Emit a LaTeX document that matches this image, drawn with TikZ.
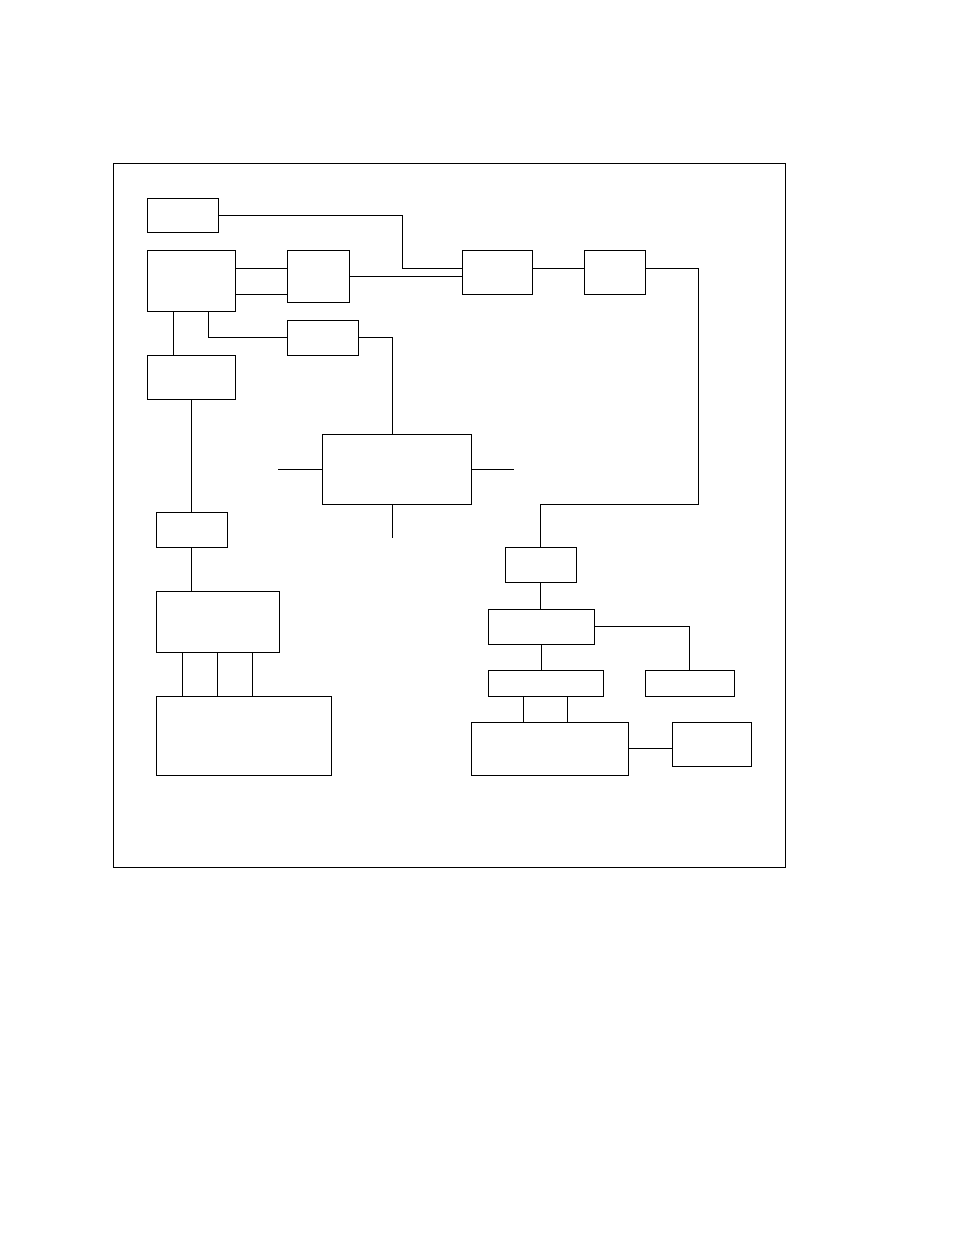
\documentclass[tikz,border=0pt]{standalone}
\usepackage{tikz}
\usetikzlibrary{positioning,calc}

\begin{document}
\begin{tikzpicture}[
    x=1pt, y=-1pt,
    blk/.style={draw, line width=1pt, inner sep=0pt, outer sep=0pt},
    wire/.style={line width=1pt},
]
\useasboundingbox (0,0) rectangle (954,1235);

% ---------- Frame ----------
\draw[wire] (113,163) rectangle (785,867);

% ---------- Top row ----------
\node[blk, minimum width=71,  minimum height=34] (clk)  at (182.5,215) {};
\node[blk, minimum width=88,  minimum height=61] (core) at (191,280.5) {};
\node[blk, minimum width=62,  minimum height=52] (mux)  at (318,276)   {};
\node[blk, minimum width=71,  minimum height=35] (sel)  at (322.5,337.5) {};
\node[blk, minimum width=70,  minimum height=44] (drv)  at (497,272)   {};
\node[blk, minimum width=61,  minimum height=44] (amp)  at (614.5,272) {};

% ---------- Left column ----------
\node[blk, minimum width=88,  minimum height=44] (reg)  at (191,377)   {};
\node[blk, minimum width=71,  minimum height=35] (buf)  at (191.5,529.5) {};
\node[blk, minimum width=123, minimum height=61] (dec)  at (217.5,621.5) {};
\node[blk, minimum width=175, minimum height=79] (mem)  at (243.5,735.5) {};

% ---------- Centre ----------
\node[blk, minimum width=149, minimum height=70] (hub)  at (396.5,469) {};

% ---------- Right column ----------
\node[blk, minimum width=71,  minimum height=35] (rx)   at (540.5,564.5) {};
\node[blk, minimum width=106, minimum height=35] (ctl)  at (541,626.5) {};
\node[blk, minimum width=89,  minimum height=26] (aux)  at (689.5,683) {};
\node[blk, minimum width=115, minimum height=26] (io)   at (545.5,683) {};
\node[blk, minimum width=157, minimum height=53] (out)  at (549.5,748.5) {};
\node[blk, minimum width=79,  minimum height=44] (load) at (711.5,744) {};

\coordinate (bend) at (698,504);

% ---------- Top connectors ----------
\draw[wire] (clk.east) -| ($(drv.west)+(-60,-4)$) -- ([yshift=4pt]drv.west);
\draw[wire] ([yshift=12.5pt]core.east) -- ([yshift=12.5pt]core.east -| mux.west);
\draw[wire] ([yshift=-13.5pt]core.east) -- ([yshift=-13.5pt]core.east -| mux.west);
\draw[wire] (mux.east) -- (mux.east -| drv.west);
\draw[wire] ([yshift=4pt]drv.east) -- ([yshift=4pt]amp.west);
\draw[wire] ([yshift=4pt]amp.east) -| (bend) -| (rx.north);

% ---------- Left connectors ----------
\draw[wire] ([xshift=-18pt]core.south) -- ([xshift=-18pt]core.south |- reg.north);
\draw[wire] ([xshift=17pt]core.south) |- (sel.west);
\draw[wire] (sel.east) -| ([xshift=-4pt]hub.north);
\draw[wire] (reg.south) -- (reg.south |- buf.north);
\draw[wire] (buf.south) -- (buf.south |- dec.north);
\foreach \dx in {-35,0,35}{
  \draw[wire] ([xshift=\dx pt]dec.south) -- ([xshift=\dx pt]dec.south |- mem.north);
}

% ---------- Hub stubs ----------
\draw[wire] (hub.west) -- ++(-44,0);
\draw[wire] (hub.east) -- ++(43,0);
\draw[wire] ([xshift=-4pt]hub.south) -- ++(0,34);

% ---------- Right connectors ----------
\draw[wire] (rx.south) -- (rx.south |- ctl.north);
\draw[wire] (ctl.east) -| (aux.north);
\draw[wire] (ctl.south) -- (ctl.south |- io.north);
\foreach \dx in {-22,22}{
  \draw[wire] ([xshift=\dx pt]io.south) -- ([xshift=\dx pt]io.south |- out.north);
}
\draw[wire] (out.east) -- (out.east -| load.west);

\end{tikzpicture}
\end{document}
